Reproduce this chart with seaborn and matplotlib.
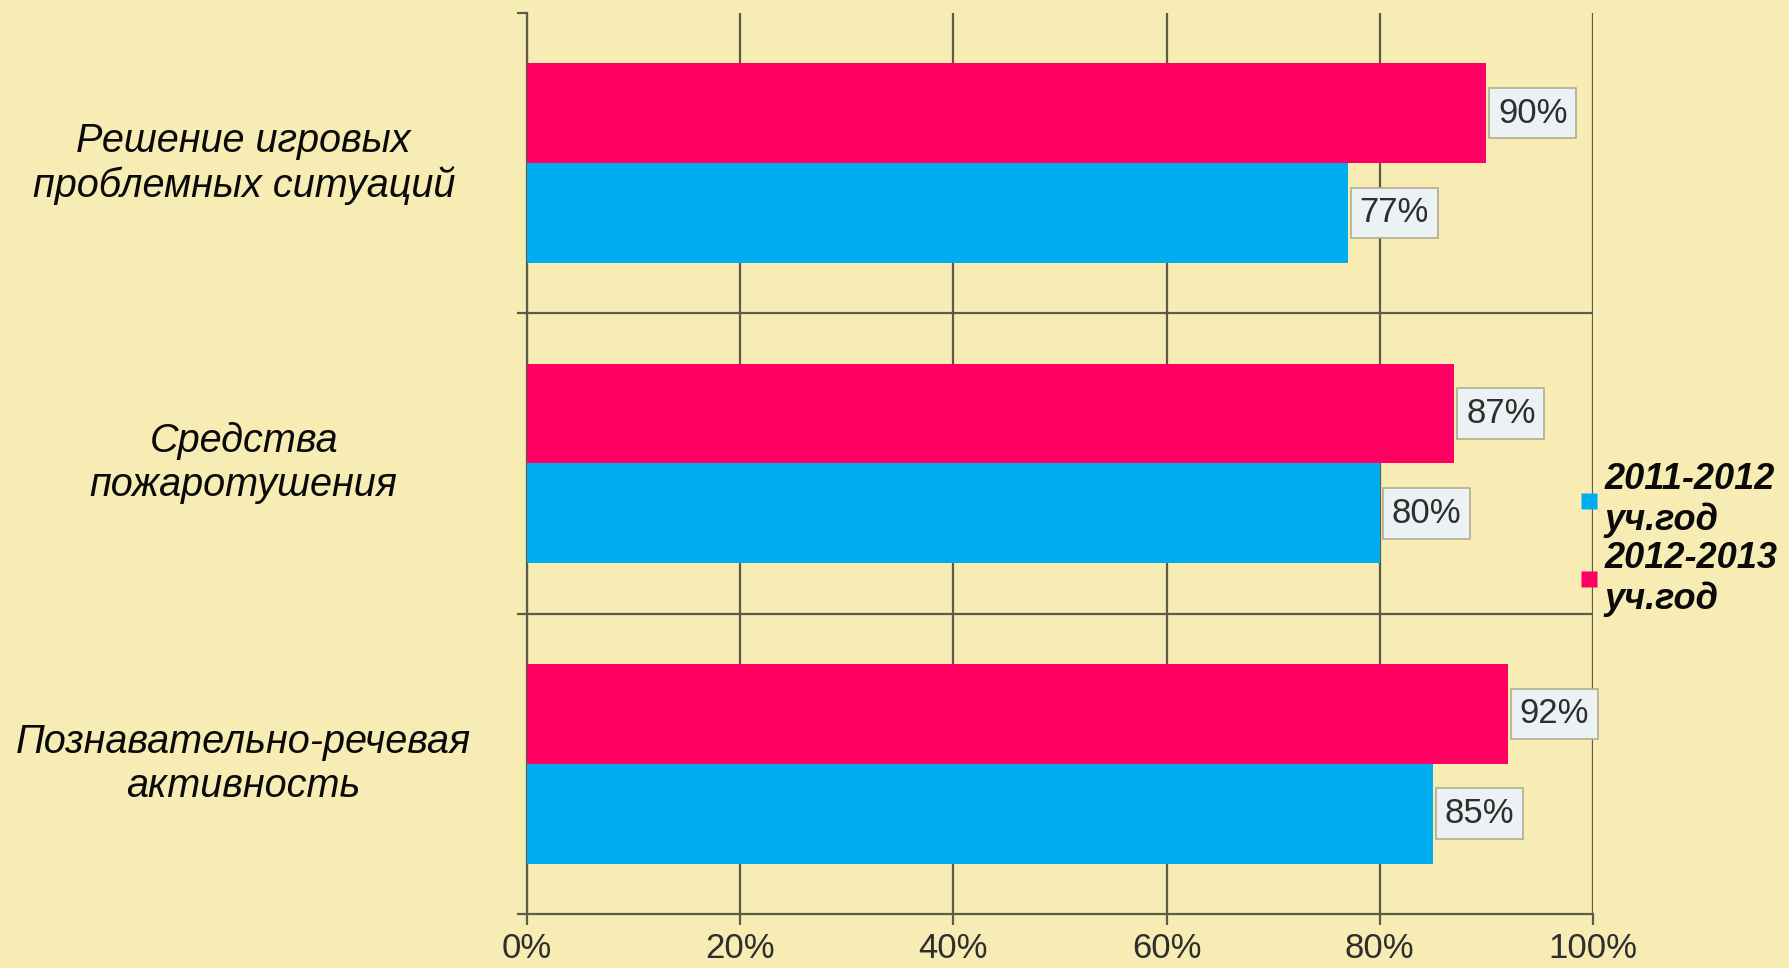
import pandas as pd
import matplotlib
matplotlib.use("Agg")
import matplotlib.pyplot as plt
from matplotlib.lines import Line2D
from matplotlib.ticker import FuncFormatter
import seaborn as sns

# данные с диаграммы
categories = ["Решение игровых\nпроблемных ситуаций",
              "Средства\nпожаротушения",
              "Познавательно-речевая\nактивность"]
years = ["2011-2012\nуч.год", "2012-2013\nуч.год"]
vals_2011 = [77, 80, 85]
vals_2012 = [90, 87, 92]
x_ticks = [0, 20, 40, 60, 80, 100]

BG = "#F7EDB4"
PINK = "#FF0062"
BLUE = "#00AEEF"
LINE = "#5c5b4a"

df = pd.DataFrame({
    "category": categories * 2,
    "year": [years[0]] * 3 + [years[1]] * 3,
    "value": vals_2011 + vals_2012,
})

sns.set_theme(style="white")
plt.rcParams["font.family"] = ["Liberation Sans", "DejaVu Sans"]

fig = plt.figure(figsize=(17.89, 9.68), dpi=100, facecolor=BG)
ax = fig.add_axes([0.2946, 0.0558, 0.8904 - 0.2946, 0.9866 - 0.0558])
ax.set_facecolor(BG)

# розовые сверху, голубые снизу
sns.barplot(data=df, x="value", y="category", hue="year",
            hue_order=[years[1], years[0]],
            palette={years[0]: BLUE, years[1]: PINK},
            orient="h", width=0.664, saturation=1, legend=False,
            edgecolor="none", zorder=3, ax=ax)

for cont in ax.containers:
    ax.bar_label(cont, fmt="{:.0f}%", padding=8.5, fontsize=25, color="#2e2e2e",
                 bbox=dict(boxstyle="square,pad=0.25", facecolor="#ECF1F3",
                           edgecolor="#B0AE90", linewidth=1.2), zorder=5)

ax.set_xlim(0, 100)
ax.set_ylim(2.5, -0.5)
ax.set_xticks(x_ticks)
ax.xaxis.set_major_formatter(FuncFormatter(lambda v, p: f"{v:.0f}%"))
ax.tick_params(axis="x", direction="out", length=8, width=1.6, color=LINE,
               labelsize=25, labelcolor="#2e2e2e", pad=5, bottom=True)

# подписи категорий по центру слева
ax.tick_params(axis="y", which="major", length=0, pad=204)
for lab in ax.get_yticklabels():
    lab.set_horizontalalignment("center")
    lab.set_verticalalignment("center")
    lab.set_fontsize(28.5)
    lab.set_fontstyle("italic")
    lab.set_color("#0a0a0a")
    lab.set_linespacing(1.2)
ax.set_yticks([-0.5, 0.5, 1.5, 2.5], minor=True)
ax.tick_params(axis="y", which="minor", direction="out", length=7, width=1.6,
               color=LINE, left=True)

ax.set_xlabel("")
ax.set_ylabel("")

# сетка
ax.grid(axis="x", color=LINE, linewidth=1.6, zorder=1)
ax.set_axisbelow(True)
for yb in [0.5, 1.5]:
    ax.axhline(yb, color=LINE, linewidth=1.6, zorder=1)

for side in ["top", "right"]:
    ax.spines[side].set_visible(False)
for side in ["left", "bottom"]:
    ax.spines[side].set_color(LINE)
    ax.spines[side].set_linewidth(1.6)

handles = [Line2D([], [], marker="s", linestyle="none", markersize=12,
                  markerfacecolor=BLUE, markeredgecolor="none"),
           Line2D([], [], marker="s", linestyle="none", markersize=12,
                  markerfacecolor=PINK, markeredgecolor="none")]
leg = fig.legend(handles, years, loc="center left", bbox_to_anchor=(0.883, 0.443),
                 frameon=False, borderpad=0, borderaxespad=0, handlelength=0.5,
                 handletextpad=0.2, labelspacing=0.08,
                 prop={"size": 26, "weight": "bold", "style": "italic"})
for t in leg.get_texts():
    t.set_linespacing(1.2)
    t.set_color("#0a0a0a")

fig.savefig("out.png", dpi=100, facecolor=BG)
